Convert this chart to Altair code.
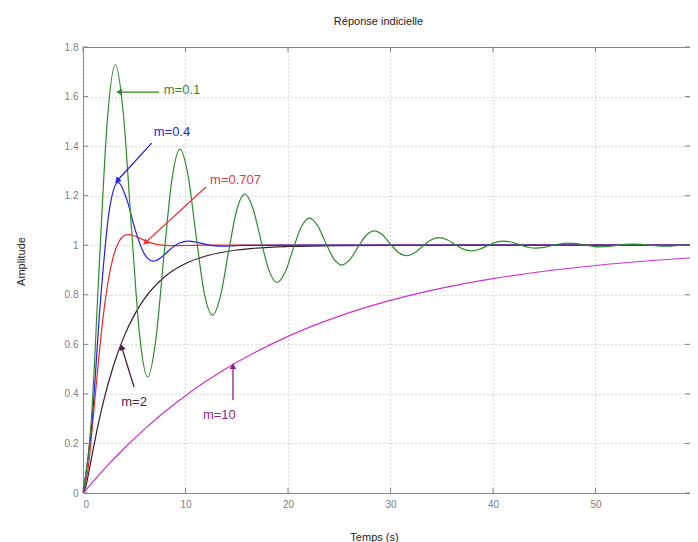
import altair as alt
import pandas as pd

# ---- data (time in s, amplitude) ----
t_01 = [0, 0.79, 1.58, 2.37, 3.16, 3.95, 4.74, 5.53, 6.31, 7.10, 7.89, 8.68, 9.47,
        10.26, 11.05, 11.84, 12.63, 13.42, 14.21, 15.00, 15.79, 16.58, 17.37, 18.16,
        18.94, 19.73, 20.52, 21.31, 22.10, 22.89, 23.68, 24.47, 25.26, 26.05, 26.84,
        27.63, 28.42, 29.21, 29.99, 30.78, 31.57, 32.36, 33.15, 33.94, 34.73, 35.52,
        36.31, 37.10, 37.89, 38.68, 39.47, 40.26, 41.05, 41.84, 42.63, 43.42, 44.20,
        44.99, 45.78, 46.57, 47.36, 48.15, 48.94, 49.73, 50.52, 51.31, 52.10, 52.89,
        53.68, 54.47, 55.25, 56.04, 56.83, 57.62, 58.41, 59.20, 59.99]
y_01 = [0, 0.2809, 0.9142, 1.5019, 1.7293, 1.5244, 1.0626, 0.6340, 0.4682, 0.6176,
        0.9544, 1.2669, 1.3878, 1.2789, 1.0333, 0.8053, 0.7172, 0.7966, 0.9757, 1.1420,
        1.2063, 1.1483, 1.0177, 0.8965, 0.8496, 0.8918, 0.9871, 1.0755, 1.1097, 1.0789,
        1.0094, 0.9449, 0.9200, 0.9425, 0.9931, 1.0402, 1.0583, 1.0420, 1.0050, 0.9707,
        0.9575, 0.9694, 0.9963, 1.0214, 1.0310, 1.0223, 1.0027, 0.9844, 0.9774, 0.9837,
        0.9981, 1.0114, 1.0165, 1.0119, 1.0014, 0.9917, 0.9880, 0.9913, 0.9990, 1.0060,
        1.0088, 1.0063, 1.0008, 0.9956, 0.9936, 0.9954, 0.9995, 1.0032, 1.0047, 1.0034,
        1.0004, 0.9977, 0.9966, 0.9975, 0.9997, 1.0017, 1.0025]

t_04 = [0, 0.857, 1.714, 2.571, 3.428, 4.284, 5.141, 5.998, 6.855, 7.712, 8.569,
        9.426, 10.283, 11.140, 11.997, 12.853, 13.710, 14.567, 15.42, 20, 60]
y_04 = [0, 0.2790, 0.7801, 1.1425, 1.2539, 1.1830, 1.0558, 0.9638, 0.9356, 0.9535,
        0.9858, 1.0092, 1.0164, 1.0118, 1.0036, 0.9977, 0.9958, 0.9970, 0.9991, 1.0001, 1.0]

t_0707 = [0, 0.5, 1, 1.5, 2, 2.5, 3, 3.5, 4, 4.5, 5, 6, 7, 8, 8.885, 10, 12, 60]
y_0707 = [0, 0.0982, 0.3048, 0.5286, 0.7220, 0.8661, 0.9606, 1.0141, 1.0379, 1.0431,
          1.0381, 1.0194, 1.0052, 0.9992, 0.9981, 0.9988, 1.0, 1.0]

t_2 = [0, 0.25, 0.5, 1, 1.5, 2, 3, 4, 5, 6, 8, 10, 12, 15, 20, 25, 30, 40, 60]
y_2 = [0, 0.0229, 0.0697, 0.1777, 0.2795, 0.3696, 0.5177, 0.6311, 0.7178, 0.7841,
       0.8736, 0.9261, 0.9567, 0.9806, 0.9949, 0.9987, 0.9997, 1.0, 1.0]

t_10 = [0, 0.25, 0.5, 1, 2, 4, 6, 8, 10, 12, 15, 20, 25, 30, 35, 40, 45, 50, 55, 60]
y_10 = [0, 0.0100, 0.0223, 0.0465, 0.0931, 0.1796, 0.2579, 0.3287, 0.3927, 0.4506,
        0.5273, 0.6321, 0.7137, 0.7772, 0.8266, 0.8650, 0.8949, 0.9182, 0.9364, 0.9505]

x_ticks = [0, 10, 20, 30, 40, 50]
y_ticks = [0, 0.2, 0.4, 0.6, 0.8, 1.0, 1.2, 1.4, 1.6, 1.8]
x_visible_max = 59.22   # the picture is cut just before t = 60

ann_labels = ["m=0.1", "m=0.4", "m=0.707", "m=2", "m=10"]
ann_text_t = [9.66, 8.68, 14.88, 4.98, 13.3]
ann_text_y = [1.626, 1.457, 1.263, 0.367, 0.315]
arrow_tail_t = [7.41, 6.7, 12.0, 4.98, 14.63]
arrow_tail_y = [1.618, 1.412, 1.235, 0.428, 0.375]
arrow_head_t = [3.61, 3.4, 6.15, 3.8, 14.63]
arrow_head_y = [1.618, 1.263, 1.013, 0.585, 0.508]
arrow_angle = [270, 222.6, 227.5, 342.9, 0]
ann_colors = ["#2f8a25", "#2424d8", "#e83a3a", "#4a1f3f", "#8c1f8c"]

line_colors = {"0.1": "#2e8b2e", "0.4": "#2020e8", "0.707": "#ee2a2a",
               "2": "#3a1a34", "10": "#cc33cc"}

series = {"10": (t_10, y_10), "2": (t_2, y_2), "0.707": (t_0707, y_0707),
          "0.4": (t_04, y_04), "0.1": (t_01, y_01)}

FONT = "Liberation Sans"
W, H = 607, 446
xs = alt.Scale(domain=[0, x_visible_max], nice=False, zero=False)
ys = alt.Scale(domain=[0, 1.8], nice=False)
xaxis = alt.Axis(values=x_ticks, format="d", grid=True, gridColor="#b4b4b4",
                 gridDash=[1, 3], ticks=False, domain=False, labelFont=FONT,
                 labelFontSize=10, labelColor="#808080", labelPadding=6,
                 title="Temps (s)", titleFont=FONT, titleFontSize=11,
                 titleFontWeight="normal", titleColor="#222222", titlePadding=22,
                 titleX=291)
yaxis = alt.Axis(values=y_ticks, format="~g", grid=True, gridColor="#b4b4b4",
                 gridDash=[1, 3], ticks=False, domain=False, labelFont=FONT,
                 labelFontSize=10, labelColor="#808080", labelPadding=5,
                 title="Amplitude", titleFont=FONT, titleFontSize=11,
                 titleFontWeight="normal", titleColor="#222222", titlePadding=38,
                 titleY=214)


def X(f):
    return alt.X(f, type="quantitative", scale=xs, axis=xaxis)


def Y(f):
    return alt.Y(f, type="quantitative", scale=ys, axis=yaxis)


layers = []
for key in ["10", "2", "0.707", "0.4", "0.1"]:
    tt, yy = series[key]
    df = pd.DataFrame({"t": tt, "y": yy})
    layers.append(
        alt.Chart(df).mark_line(color=line_colors[key], strokeWidth=1.2, clip=True,
                                interpolate="monotone").encode(x=X("t"), y=Y("y"))
    )

ann = pd.DataFrame({"label": ann_labels, "tx": ann_text_t, "ty": ann_text_y,
                    "t1": arrow_tail_t, "y1": arrow_tail_y,
                    "t2": arrow_head_t, "y2": arrow_head_y,
                    "ang": arrow_angle, "col": ann_colors})

arrows = alt.Chart(ann).mark_rule(strokeWidth=1.3).encode(
    x=X("t1"), y=Y("y1"), x2="t2", y2="y2",
    color=alt.Color("col:N", scale=None))
heads = alt.Chart(ann).mark_point(shape="triangle", filled=True, size=45,
                                  opacity=1).encode(
    x=X("t2"), y=Y("y2"), angle=alt.Angle("ang:Q", scale=None),
    color=alt.Color("col:N", scale=None))
texts = alt.Chart(ann).mark_text(font=FONT, fontSize=13, align="center",
                                 baseline="middle").encode(
    x=X("tx"), y=Y("ty"), text="label:N", color=alt.Color("col:N", scale=None))

# inside ticks (MATLAB style)
ydf = pd.DataFrame({"v": y_ticks})
xdf = pd.DataFrame({"v": x_ticks})
tick_l = alt.Chart(ydf).mark_rule(color="#808080").encode(
    y=Y("v"), x=alt.value(0), x2=alt.value(5))
tick_r = alt.Chart(ydf).mark_rule(color="#808080").encode(
    y=Y("v"), x=alt.value(W - 5), x2=alt.value(W))
tick_b = alt.Chart(xdf).mark_rule(color="#808080").encode(
    x=X("v"), y=alt.value(H - 5), y2=alt.value(H))
tick_t = alt.Chart(xdf).mark_rule(color="#808080").encode(
    x=X("v"), y=alt.value(0), y2=alt.value(5))

chart = alt.layer(tick_l, tick_r, tick_b, tick_t, *layers, arrows, heads, texts).properties(
    width=W, height=H,
    autosize=alt.AutoSizeParams(type="none"),
    padding={"left": 75, "top": 39, "right": 0, "bottom": 50},
    title=alt.TitleParams("Réponse indicielle", font=FONT, fontSize=11,
                          fontWeight="normal", color="#222222", offset=15, dx=-8),
).configure_view(stroke="#7a7a7a", strokeWidth=1)

chart.save("out.html", embed_options={"renderer": "svg", "actions": False})
